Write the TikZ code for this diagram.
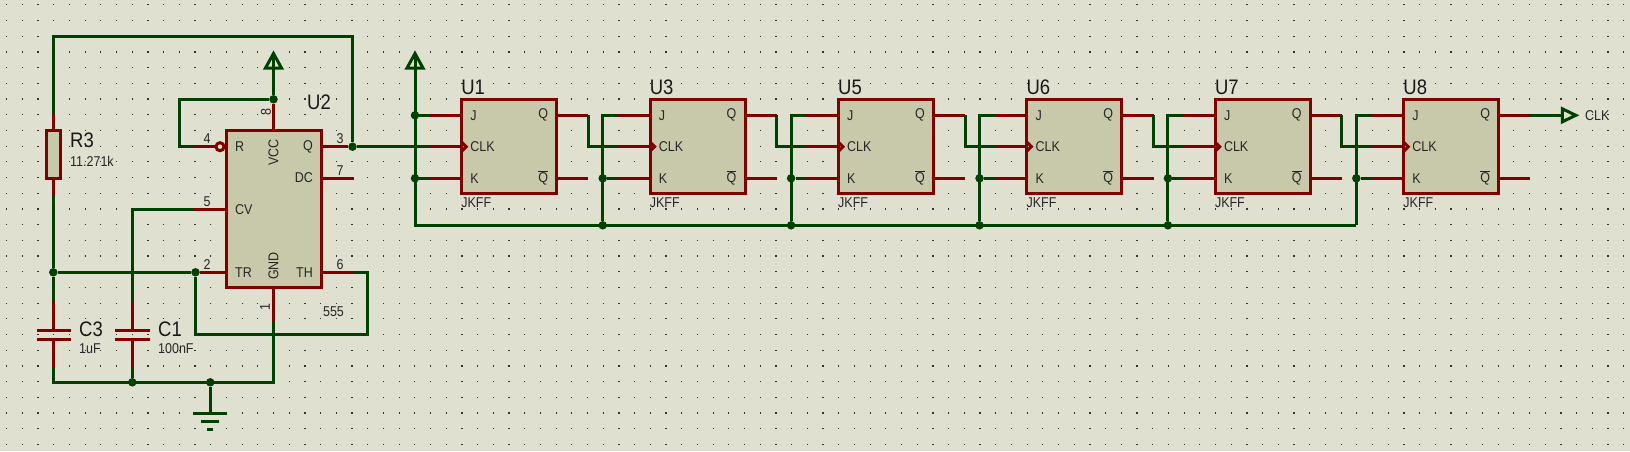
\documentclass[tikz,border=0pt]{standalone}
\usepackage{fontspec}
\setmainfont[FakeStretch=0.88]{Liberation Sans}
\usepackage{tikz}
\usetikzlibrary{positioning, calc}
\definecolor{sheet}{RGB}{223,224,208}
\definecolor{body}{RGB}{200,200,170}
\definecolor{pinred}{RGB}{128,0,0}
\definecolor{wiregreen}{RGB}{0,64,0}
\tikzstyle{wire} = [draw=wiregreen, line width=3pt, line join=miter]
\tikzstyle{pin} = [draw=pinred, line width=3pt]
\tikzstyle{junction} = [circle, fill=wiregreen, inner sep=0pt, minimum size=8.5pt]
\tikzstyle{corner} = [coordinate]
\tikzstyle{chip} = [rectangle, draw=pinred, fill=body, line width=3pt, inner sep=0pt, outer sep=0pt]
\tikzstyle{refname} = [inner sep=0pt, font=\fontsize{21}{23}\selectfont, text=black!90]
\tikzstyle{small} = [inner sep=0pt, font=\fontsize{14.2}{16}\selectfont, text=black!85]
\begin{document}
\begin{tikzpicture}[x=1pt, y=-1pt]
\fill [sheet] (0,0) rectangle (1630,451);
\useasboundingbox (0,0) rectangle (1630,451);
% grid
\foreach \gx in {0,...,103} \foreach \gy in {0,...,28}
  \fill [black!80] (6.0+15.7*\gx,4.2+15.7*\gy) rectangle +(1.2,1.2);

% timer
\node (u2) [chip, minimum width=95pt, minimum height=157pt] at (273.5,208.5) {};
\node (r3) [chip, minimum width=14pt, minimum height=48pt] at (53.3,154) {};
\node (rtop) [corner] at (53.3,114) {};
\node (rbot) [corner] at (53.3,195.5) {};
\node (topl) [corner] at (53.3,36) {};
\node (jq) [junction] at (352.5,146.7) {};
\node (pwr1) [corner] at (273.5,53.5) {};
\node (jvcc) [junction] at (273.5,99.3) {};
\node (loop) [corner] at (179.3,99.3) {};
\node (p4) [corner] at (194,146.7) {};
\node (bub) [circle, draw=pinred, fill=sheet, line width=3pt, inner sep=0pt, minimum size=8pt] at (220,146.7) {};
\node (p5) [corner] at (194,209.3) {};
\node (cvl) [corner] at (132.3,209.3) {};
\node (p7) [corner] at (354,178) {};
\node (p6) [corner] at (354,272.3) {};
\node (thr) [corner] at (367.7,272.3) {};
\node (thl) [corner] at (195.5,334.3) {};
\node (jtr) [junction] at (195.5,272.3) {};
\node (jr) [junction] at (53.3,272.3) {};
\node (p1) [corner] at (273.5,321) {};
\node (gndr) [corner] at (273.5,382.3) {};
\node (gndl) [corner] at (53.3,382.3) {};
\node (jc1) [junction] at (132.3,382.3) {};
\node (jg) [junction] at (210.3,382.3) {};
\node (g1) [corner] at (210.3,413.3) {};
\node (c3a) [corner] at (53.3,301.7) {};
\node (c3b) [corner] at (53.3,330) {};
\node (c3c) [corner] at (53.3,339.3) {};
\node (c3d) [corner] at (53.3,367.7) {};
\node (c1a) [corner] at (132.3,301.7) {};
\node (c1b) [corner] at (132.3,330) {};
\node (c1c) [corner] at (132.3,339.3) {};
\node (c1d) [corner] at (132.3,367.7) {};

\draw [wire] (rtop) -- (topl) -| (jq);
\draw [wire] (rbot) -- (jr);
\draw [wire] (jr) -- (c3a);
\draw [wire] (jr) -- (jtr);
\draw [wire] (c3d) -- (gndl) -- (gndr) -- (p1);
\draw [wire] (c1d) -- (jc1);
\draw [wire] (c1a) -- (cvl) -- (p5);
\draw [wire] (jvcc) -- (pwr1);
\draw [wire] (jvcc) -- (loop) |- (p4);
\draw [wire] (p6) -- (thr) |- (thl) -- (jtr);
\draw [wire] (jg) -- (g1);
\draw [wire] (pwr1) -- ++(8,14.5) -- ++(-16,0) -- cycle;
\draw [pin] (r3.north) -- (rtop);
\draw [pin] (r3.south) -- (rbot);
\draw [pin] (p4) -- (bub);
\draw [pin] (p5) -- (p5 -| u2.west);
\draw [pin] (jtr) -- (jtr -| u2.west);
\draw [pin] (p6) -- (p6 -| u2.east);
\draw [pin] (p7) -- (p7 -| u2.east);
\draw [pin] (jq) -- (jq -| u2.east);
\draw [pin] (jvcc) -- (jvcc |- u2.north);
\draw [pin] (p1) -- (p1 |- u2.south);
\draw [pin] (c3a) -- (c3b);
\draw [pin] (c3c) -- (c3d);
\draw [pin] (c1a) -- (c1b);
\draw [pin] (c1c) -- (c1d);
\draw [pin] ($(c3b)+(-16.5,0)$) -- ($(c3b)+(17.5,0)$);
\draw [pin] ($(c3c)+(-16.5,0)$) -- ($(c3c)+(17.5,0)$);
\draw [pin] ($(c1b)+(-17,0)$) -- ($(c1b)+(17.5,0)$);
\draw [pin] ($(c1c)+(-17,0)$) -- ($(c1c)+(17.5,0)$);
\draw [wire] ($(g1)+(-17,0)$) -- ($(g1)+(17,0)$);
\draw [wire] ($(g1)+(-9,8)$) -- ($(g1)+(9,8)$);
\draw [wire] ($(g1)+(-3,16)$) -- ($(g1)+(3,16)$);

\node (r3name) [refname, anchor=west] at (70,140) {R3};
\node (r3val) [small, anchor=west] at (70,161.7) {11.271k};
\node (u2name) [refname, anchor=west] at (307,102) {U2};
\node (c3name) [refname, anchor=west] at (79,329) {C3};
\node (c3val) [small, anchor=west] at (79,349) {1uF};
\node (c1name) [refname, anchor=west] at (158,329) {C1};
\node (c1val) [small, anchor=west] at (158,349) {100nF};
\node (t555) [small] at (333.5,312) {555};
\node (n4) [small] at (207,139) {4};
\node (n8) [small, rotate=90] at (266,112) {8};
\node (n3) [small] at (340,139) {3};
\node (n7) [small] at (340,170.5) {7};
\node (n5) [small] at (207,202) {5};
\node (n2) [small] at (207,265) {2};
\node (n6) [small] at (340,265) {6};
\node (n1) [small, rotate=90] at (265,307) {1};
\node (tr) [small, anchor=west] at (235,146.7) {R};
\node (tvcc) [small, rotate=90] at (273.5,152.7) {VCC};
\node (tq) [small, anchor=east] at (313,146.7) {Q};
\node (tdc) [small, anchor=east] at (313,178) {DC};
\node (tcv) [small, anchor=west] at (235,209.3) {CV};
\node (ttr) [small, anchor=west] at (235,272.3) {TR};
\node (tgnd) [small, rotate=90] at (273.5,266) {GND};
\node (tth) [small, anchor=east] at (313,272.3) {TH};

% counter stages
\foreach \name [count=\n from 0, evaluate=\n as \xa using 461.7+188.4*\n] in {1,3,5,6,7,8} {
  \node (u\name) [chip, minimum width=95pt, minimum height=94pt, anchor=west] at (\xa,146.7) {};
  \node (j\name) [corner] at (\xa-32.4,115.3) {};
  \node (clk\name) [corner] at (\xa-32.4,146.7) {};
  \node (k\name) [corner] at (\xa-32.4,178.3) {};
  \node (q\name) [corner] at (\xa+126.6,115.3) {};
  \node (nq\name) [corner] at (\xa+126.6,178.3) {};
  \draw [pin] (j\name) -- (j\name -| u\name.west);
  \draw [pin] (clk\name) -- (u\name.west);
  \draw [pin] (k\name) -- (k\name -| u\name.west);
  \draw [pin] (q\name) -- (q\name -| u\name.east);
  \draw [pin] (nq\name) -- (nq\name -| u\name.east);
  \draw [pin] (\xa,142.2) -- (\xa+4.5,146.7) -- (\xa,151.2);
  \node (name\name) [refname, anchor=west] at (\xa-0.5,87) {U\name};
  \node (tj\name) [small, anchor=west] at (\xa+8.5,115.3) {J};
  \node (tclk\name) [small, anchor=west] at (\xa+8.5,146.7) {CLK};
  \node (tk\name) [small, anchor=west] at (\xa+8.5,178.3) {K};
  \node (tq\name) [small, anchor=east] at (\xa+86.5,115.3) {Q};
  \node (tnq\name) [small, anchor=east] at (\xa+86.5,178.3) {$\overline{\hbox{Q}}$};
  \node (ff\name) [small, anchor=west] at (\xa-0.5,202.3) {JKFF};
}
\foreach \prev/\name/\bottype in {1/3/junction, 3/5/junction, 5/6/junction, 6/7/junction, 7/8/corner} {
  \path (j\name) ++(-15,0) coordinate (top\name);
  \node (bus\name) [junction] at (top\name |- k\name) {};
  \node (bot\name) [\bottype] at ($(top\name)+(0,110)$) {};
  \draw [wire] (q\prev) |- (clk\name);
  \draw [wire] (j\name) -- (top\name) -- (bot\name);
  \draw [wire] (bus\name) -- (k\name);
}

% first stage feed
\node (pwr2) [corner] at (415,53.5) {};
\node (bus1) [junction] at (415,115.3) {};
\node (bus2) [junction] at (415,178.3) {};
\node (botl) [corner] at (415,225.3) {};
\draw [wire] (pwr2) -- (botl) -- (bot8);
\draw [wire] (pwr2) -- ++(8,14.5) -- ++(-16,0) -- cycle;
\draw [wire] (bus1) -- (j1);
\draw [wire] (bus2) -- (k1);
\draw [wire] (jq) -- (clk1);

% output
\node (clkout) [corner] at (1562.3,115.3) {};
\node (clktext) [small, anchor=west] at (1585,115.3) {CLK};
\draw [wire] (q8) -- (clkout);
\draw [wire] (clkout) ++(0,-6.5) -- ++(13.5,6.5) -- ++(-13.5,6.5) -- cycle;
\end{tikzpicture}
\end{document}
